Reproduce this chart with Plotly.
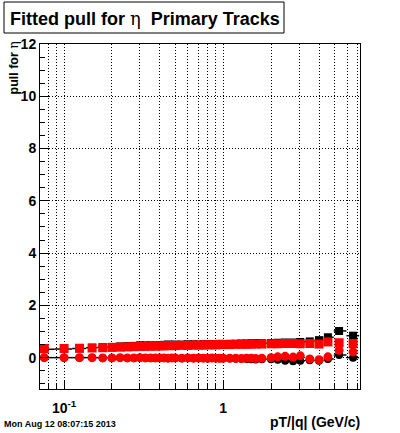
import plotly.graph_objects as go
import numpy as np

# ---- data ----
pt = [0.075, 0.1, 0.125, 0.15, 0.175, 0.2, 0.225, 0.25, 0.275, 0.3, 0.325, 0.35, 0.375,
      0.4, 0.425, 0.45, 0.475, 0.5, 0.55, 0.6, 0.65, 0.7, 0.75, 0.8, 0.85, 0.9, 0.95,
      1.0, 1.1, 1.2, 1.3, 1.4, 1.5, 1.6, 1.75, 2.0, 2.2, 2.45, 2.75, 3.05, 3.5, 4.0,
      4.55, 5.35, 6.55]

red_sigma = [0.35, 0.35, 0.36, 0.37, 0.38, 0.39, 0.40, 0.41, 0.42, 0.43, 0.43, 0.44, 0.44,
             0.45, 0.45, 0.46, 0.46, 0.46, 0.47, 0.47, 0.48, 0.48, 0.48, 0.49, 0.49, 0.49, 0.50,
             0.50, 0.50, 0.51, 0.51, 0.51, 0.52, 0.52, 0.52, 0.53, 0.53, 0.54, 0.54, 0.53, 0.54, 0.52,
             0.60, 0.57, 0.53]
black_sigma = [0.32, 0.33, 0.35, 0.38, 0.40, 0.41, 0.43, 0.44, 0.45, 0.47, 0.47, 0.47, 0.47,
               0.48, 0.49, 0.50, 0.49, 0.50, 0.50, 0.51, 0.51, 0.50, 0.51, 0.51, 0.52, 0.52, 0.53,
               0.52, 0.53, 0.53, 0.54, 0.54, 0.55, 0.56, 0.55, 0.56, 0.57, 0.58, 0.58, 0.60, 0.62, 0.67,
               0.78, 1.02, 0.84]
red_mean = [0.00, 0.00, 0.00, 0.00, -0.01, -0.01, 0.00, -0.01, -0.01, 0.00, -0.01, -0.01, -0.01,
            -0.01, -0.01, -0.02, -0.01, -0.01, -0.02, -0.01, -0.02, -0.01, -0.02, -0.02, -0.01, -0.02, -0.02,
            -0.02, -0.02, -0.02, -0.03, -0.02, -0.02, -0.03, -0.02, 0.00, 0.03, 0.05, 0.02, 0.07, -0.05, -0.08,
            0.03, 0.28, 0.22]
black_mean = [0.00, 0.00, 0.00, 0.00, -0.01, -0.01, 0.00, -0.01, -0.01, 0.00, -0.01, -0.01, -0.01,
              -0.01, -0.01, -0.02, -0.01, -0.01, -0.02, -0.01, -0.02, -0.02, -0.02, -0.03, -0.02, -0.02, -0.03,
              -0.03, -0.03, -0.04, -0.04, -0.05, -0.06, -0.07, -0.06, -0.06, -0.08, -0.12, -0.14, -0.12, -0.10, -0.12,
              -0.05, 0.10, 0.00]

x_tickvals = [0.1, 1]
x_ticktext = ["10<sup>-1</sup>", "1"]
x_minor = [0.08, 0.09, 0.2, 0.3, 0.4, 0.5, 0.6, 0.7, 0.8, 0.9, 2, 3, 4, 5, 6, 7]
y_tickvals = [0, 2, 4, 6, 8, 10, 12]

# bin half-widths derived from centers
p = np.array(pt)
edges = np.concatenate([[p[0] - (p[1] - p[0]) / 2], (p[1:] + p[:-1]) / 2, [p[-1] + (p[-1] - p[-2]) / 2]])
ex_minus = p - edges[:-1]
ex_plus = edges[1:] - p

FONT = "Liberation Sans"
DOT = "1px,2px"

fig = go.Figure()
errx = dict(type="data", symmetric=False, array=ex_plus, arrayminus=ex_minus,
            color="black", thickness=1.5, width=0)
fig.add_trace(go.Scatter(x=pt, y=black_mean, mode="markers", error_x=errx,
                         marker=dict(symbol="circle", size=8, color="black"), showlegend=False))
fig.add_trace(go.Scatter(x=pt, y=black_sigma, mode="markers", error_x=errx,
                         marker=dict(symbol="square", size=8, color="black"), showlegend=False))
fig.add_trace(go.Scatter(x=pt, y=red_mean, mode="markers",
                         marker=dict(symbol="circle", size=9, color="red"), showlegend=False))
fig.add_trace(go.Scatter(x=pt, y=red_sigma, mode="markers",
                         marker=dict(symbol="square", size=9, color="red"), showlegend=False))

fig.update_layout(
    width=400, height=433,
    margin=dict(l=40, r=40, t=44, b=44),
    paper_bgcolor="white", plot_bgcolor="white",
    font=dict(family=FONT, color="black"),
    xaxis=dict(
        type="log", range=[np.log10(0.0706), np.log10(7.24)],
        tickmode="array", tickvals=x_tickvals, ticktext=x_ticktext,
        ticks="inside", ticklen=9, tickwidth=1, tickcolor="black",
        showline=True, linecolor="black", linewidth=1, mirror=True,
        showgrid=True, gridcolor="black", griddash=DOT, gridwidth=1,
        tickfont=dict(family=FONT, size=14, color="black", weight="bold"),
        ticklabelstandoff=6,
        minor=dict(tickmode="array", tickvals=x_minor, ticks="inside", ticklen=5,
                   tickcolor="black", showgrid=True, gridcolor="black", griddash=DOT, gridwidth=1),
        zeroline=False,
    ),
    yaxis=dict(
        range=[-1.2, 12.0],
        tickmode="array", tickvals=y_tickvals,
        ticks="inside", ticklen=10, tickwidth=1, tickcolor="black",
        showline=True, linecolor="black", linewidth=1, mirror=True,
        showgrid=True, gridcolor="black", griddash=DOT, gridwidth=1,
        tickfont=dict(family=FONT, size=14, color="black", weight="bold"),
        minor=dict(dtick=0.5, tick0=0, ticks="inside", ticklen=5, tickcolor="black", showgrid=False),
        zeroline=False,
    ),
)

# title box
fig.add_shape(type="rect", xref="paper", yref="paper",
              x0=(4 - 40) / 320, x1=(284 - 40) / 320, y0=(389 - 33) / 345, y1=(389 - 2) / 345,
              line=dict(color="black", width=1), fillcolor="white")
fig.add_annotation(xref="paper", yref="paper", x=(145 - 40) / 320, y=(389 - 18) / 345,
                   xanchor="center", yanchor="middle", showarrow=False,
                   text="<b>Fitted pull for </b><span style='font-family:DejaVu Serif'>η</span><b>  Primary Tracks</b>",
                   font=dict(family=FONT, size=18, color="black"))
# axis titles
fig.add_annotation(xref="paper", yref="paper", x=1.0 + 2 / 320, y=(389 - 422) / 345,
                   xanchor="right", yanchor="middle", showarrow=False,
                   text="<b>pT/|q| (GeV/c)</b>", font=dict(family=FONT, size=14, color="black"))
fig.add_annotation(xref="paper", yref="paper", x=(13 - 40) / 320, y=(389 - 40) / 345,
                   xanchor="center", yanchor="top", showarrow=False, textangle=-90,
                   text="<b>pull for </b><span style='font-family:DejaVu Serif'>η</span>",
                   font=dict(family=FONT, size=12.5, color="black"))
# date stamp
fig.add_annotation(xref="paper", yref="paper", x=(2 - 40) / 320, y=(389 - 424) / 345,
                   xanchor="left", yanchor="middle", showarrow=False,
                   text="<b>Mon Aug 12 08:07:15 2013</b>", font=dict(family=FONT, size=9, color="black"))

fig.write_html("out.html", config={"displayModeBar": False},
               post_script="document.body.style.margin='0';document.body.style.padding='0';")
